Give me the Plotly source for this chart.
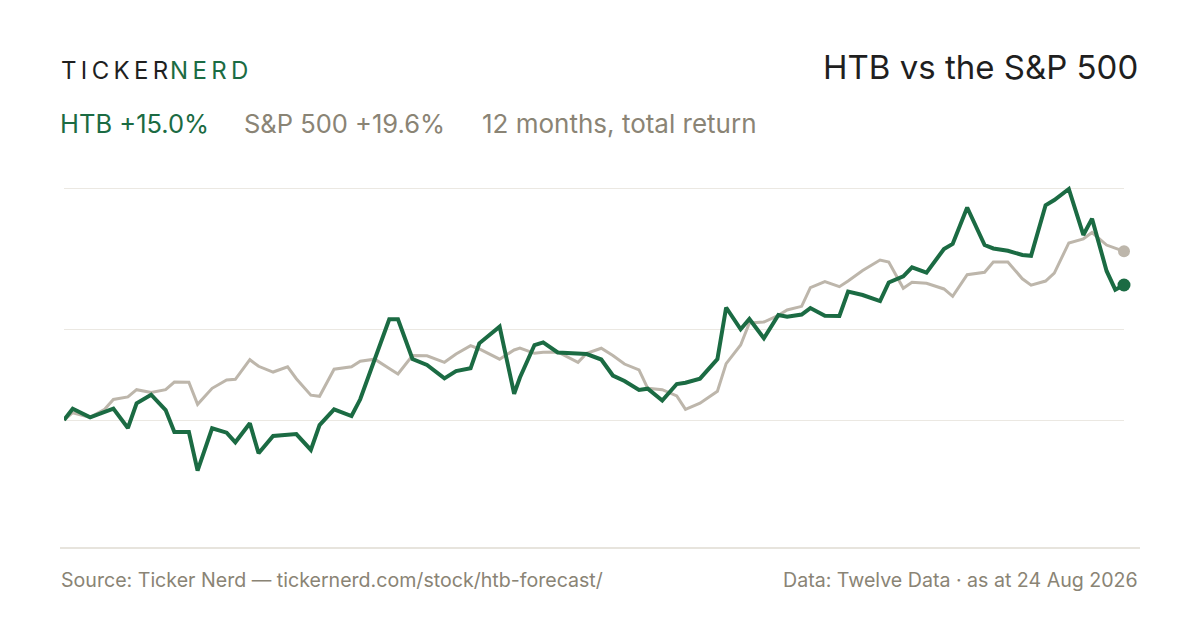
import pandas as pd
import plotly.graph_objects as go

# days since 24 Aug 2025 for each sample
day_offsets = [0, 3, 9, 14, 17, 22, 25, 30, 35, 38,
               43, 46, 51, 56, 59, 64, 67, 72, 77, 80,
               85, 88, 93, 99, 102, 107, 112, 115, 120, 125,
               131, 135, 140, 143, 150, 155, 157, 162, 165, 170,
               177, 180, 185, 189, 193, 198, 201, 206, 211, 214,
               219, 225, 228, 233, 236, 241, 246, 249, 254, 257,
               262, 267, 270, 275, 281, 284, 289, 292, 297, 303,
               306, 311, 317, 320, 325, 330, 333, 338, 341, 346,
               351, 354, 359, 362, 365]

# cumulative return, %
htb_return = [0.0, 1.26, 0.30, 0.91, 1.26, -0.89, 1.86, 2.81, 1.11, -1.33,
              -1.33, -5.63, -0.92, -1.41, -2.48, -0.37, -3.70, -1.78, -1.63, -1.56,
              -3.33, -0.56, 1.19, 0.44, 2.30, 6.67, 11.19, 11.19, 6.78, 6.11,
              4.63, 5.44, 5.74, 8.52, 10.37, 2.92, 4.72, 8.33, 8.63, 7.50,
              7.39, 7.33, 6.72, 4.94, 4.33, 3.33, 3.48, 2.17, 4.00, 4.14,
              4.59, 6.78, 12.50, 10.08, 11.22, 9.08, 11.67, 11.48, 11.72, 12.44,
              11.58, 11.56, 14.26, 13.89, 13.22, 15.28, 15.97, 16.97, 16.37, 19.00,
              19.56, 23.61, 19.44, 19.06, 18.81, 18.33, 18.24, 23.86, 24.44, 25.67,
              20.56, 22.37, 16.56, 14.48, 15.0]

spx_return = [0.0, 0.81, 0.30, 1.19, 2.28, 2.56, 3.37, 3.06, 3.37, 4.22,
              4.20, 1.74, 3.52, 4.44, 4.52, 6.70, 5.97, 5.33, 5.91, 4.59,
              2.76, 2.63, 5.64, 5.91, 6.53, 6.76, 5.71, 5.11, 7.17, 7.14,
              6.41, 7.33, 8.26, 7.89, 6.76, 7.78, 8.00, 7.41, 7.52, 7.56,
              6.41, 7.41, 7.97, 7.17, 6.22, 5.56, 3.52, 3.37, 2.67, 1.19,
              1.86, 3.20, 6.26, 8.33, 10.78, 10.89, 11.63, 12.22, 12.63, 14.70,
              15.37, 14.81, 15.44, 16.61, 17.78, 17.56, 14.63, 15.30, 15.19, 14.56,
              13.74, 16.14, 16.41, 17.56, 17.56, 15.69, 14.98, 15.44, 16.33, 19.67,
              20.13, 20.83, 19.44, 19.06, 18.74]

GREEN = "#1b6b43"
SAND = "#bdb6ab"
MUTED = "#8a8475"
INK = "#1f1f1f"
FONT = "Inter, Roboto, sans-serif"

dates = pd.Timestamp("2025-08-24") + pd.to_timedelta(day_offsets, unit="D")

# page offset (the html body has an 8px margin)
OFF = 8
# plot box in page pixels
L, R, T, B = 64, 1124, 170, 540
ZERO_Y = 420    # page y of the 0% line
PX_PER_PCT = 9.0


def px(x, y):
    """page pixel -> paper coords"""
    return (x - L) / (R - L), (B - y) / (B - T)


fig = go.Figure()

fig.add_trace(go.Scatter(x=dates, y=spx_return, mode="lines", name="S&P 500",
                         line=dict(color=SAND, width=3), cliponaxis=False))
fig.add_trace(go.Scatter(x=dates, y=htb_return, mode="lines", name="HTB",
                         line=dict(color=GREEN, width=4), cliponaxis=False))
fig.add_trace(go.Scatter(x=dates[-1:], y=spx_return[-1:], mode="markers",
                         marker=dict(color=SAND, size=12), cliponaxis=False))
fig.add_trace(go.Scatter(x=dates[-1:], y=htb_return[-1:], mode="markers",
                         marker=dict(color=GREEN, size=13), cliponaxis=False))

hi = max(max(htb_return), max(spx_return))
lo = min(min(htb_return), min(spx_return))
grid = [0, (hi + lo) / 2, hi]


def note(text, x, y, size, color, anchor="left"):
    xp, yp = px(x, y)
    fig.add_annotation(text=text, x=xp, y=yp, xref="paper", yref="paper",
                       xanchor=anchor, yanchor="middle", showarrow=False,
                       font=dict(family=FONT, size=size, color=color))


ts = "\u2009"
note(ts.join("TICKER"), 59, 70, 24, INK)
note(ts.join("NERD"), 168, 70, 24, GREEN)
note("HTB vs the S&P 500", 1140, 67, 33, INK, anchor="right")
note("HTB +15.0%", 58, 124, 25.5, GREEN)
note("S&P 500 +19.6%", 242, 124, 25.5, MUTED)
note("12 months, total return", 480, 124, 26, MUTED)
note("Source: Ticker Nerd \u2014 tickernerd.com/stock/htb-forecast/", 59, 580, 19.6, MUTED)
note("Data: Twelve Data \u00b7 as at 24 Aug 2026", 1140, 580, 19.6, MUTED, anchor="right")

x0, y0 = px(60, 548)
x1, _ = px(1140, 548)
fig.add_shape(type="line", xref="paper", yref="paper", x0=x0, x1=x1, y0=y0, y1=y0,
              line=dict(color="#dfdbd2", width=1.5))

fig.update_layout(
    width=1200, height=630,
    margin=dict(l=L - OFF, r=1200 - (R - OFF), t=T - OFF, b=630 - (B - OFF), pad=0),
    paper_bgcolor="white", plot_bgcolor="white",
    showlegend=False, hovermode=False,
    xaxis=dict(range=[dates[0], dates[-1]], showgrid=False, zeroline=False,
               showticklabels=False, ticks="", showline=False),
    yaxis=dict(range=[(ZERO_Y - B) / PX_PER_PCT, (ZERO_Y - T) / PX_PER_PCT],
               tickvals=grid, showticklabels=False, gridcolor="#ebe8e2",
               gridwidth=1.2, zeroline=False, ticks="", showline=False),
)

fig.write_html("out.html")
